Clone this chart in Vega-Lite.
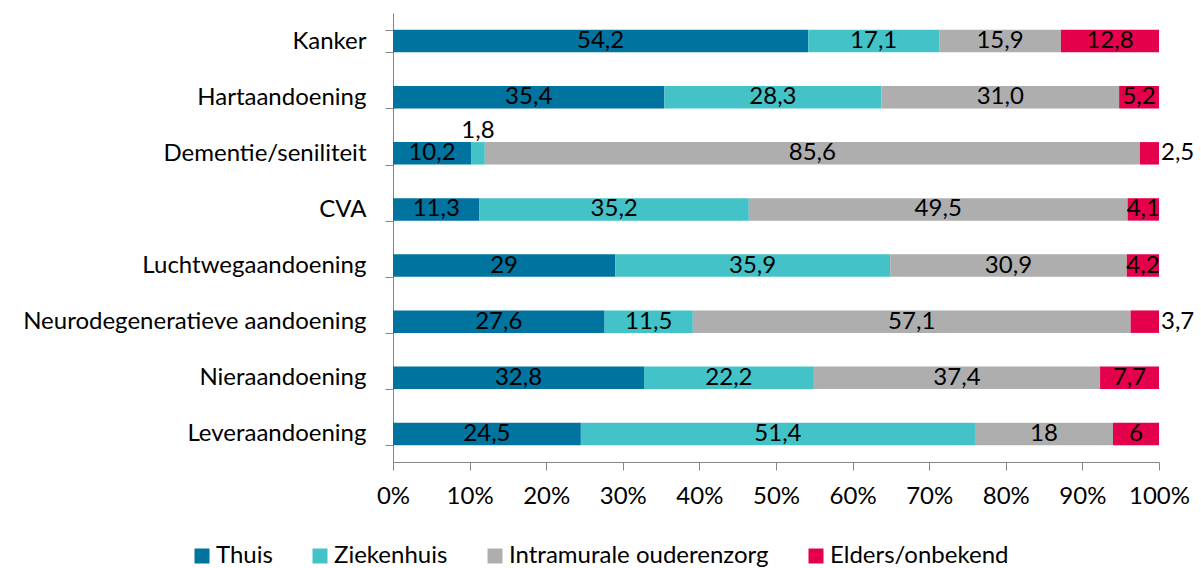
{
  "$schema": "https://vega.github.io/schema/vega-lite/v6.json",
  "autosize": "none",
  "width": 766,
  "height": 449,
  "padding": {"left": 393, "top": 13, "right": 42, "bottom": 106},
  "background": "white",
  "config": {
    "font": "Lato",
    "view": {"stroke": null},
    "axis": {"labelFont": "Lato", "labelFontSize": 24, "labelColor": "#000000", "labelLimit": 0, "domainColor": "#868686", "tickColor": "#868686", "tickSize": 8, "grid": false, "title": null}
  },
  "data": {
    "values": [
      {"cat": "Kanker", "series": "Thuis", "value": 54.2, "label": "54,2"},
      {"cat": "Kanker", "series": "Ziekenhuis", "value": 17.1, "label": "17,1"},
      {"cat": "Kanker", "series": "Intramurale ouderenzorg", "value": 15.9, "label": "15,9"},
      {"cat": "Kanker", "series": "Elders/onbekend", "value": 12.8, "label": "12,8"},
      {"cat": "Hartaandoening", "series": "Thuis", "value": 35.4, "label": "35,4"},
      {"cat": "Hartaandoening", "series": "Ziekenhuis", "value": 28.3, "label": "28,3"},
      {"cat": "Hartaandoening", "series": "Intramurale ouderenzorg", "value": 31.0, "label": "31,0"},
      {"cat": "Hartaandoening", "series": "Elders/onbekend", "value": 5.2, "label": "5,2"},
      {"cat": "Dementie/seniliteit", "series": "Thuis", "value": 10.2, "label": "10,2"},
      {"cat": "Dementie/seniliteit", "series": "Ziekenhuis", "value": 1.8, "label": "1,8"},
      {"cat": "Dementie/seniliteit", "series": "Intramurale ouderenzorg", "value": 85.6, "label": "85,6"},
      {"cat": "Dementie/seniliteit", "series": "Elders/onbekend", "value": 2.5, "label": "2,5"},
      {"cat": "CVA", "series": "Thuis", "value": 11.3, "label": "11,3"},
      {"cat": "CVA", "series": "Ziekenhuis", "value": 35.2, "label": "35,2"},
      {"cat": "CVA", "series": "Intramurale ouderenzorg", "value": 49.5, "label": "49,5"},
      {"cat": "CVA", "series": "Elders/onbekend", "value": 4.1, "label": "4,1"},
      {"cat": "Luchtwegaandoening", "series": "Thuis", "value": 29, "label": "29"},
      {"cat": "Luchtwegaandoening", "series": "Ziekenhuis", "value": 35.9, "label": "35,9"},
      {"cat": "Luchtwegaandoening", "series": "Intramurale ouderenzorg", "value": 30.9, "label": "30,9"},
      {"cat": "Luchtwegaandoening", "series": "Elders/onbekend", "value": 4.2, "label": "4,2"},
      {"cat": "Neurodegeneratieve aandoening", "series": "Thuis", "value": 27.6, "label": "27,6"},
      {"cat": "Neurodegeneratieve aandoening", "series": "Ziekenhuis", "value": 11.5, "label": "11,5"},
      {"cat": "Neurodegeneratieve aandoening", "series": "Intramurale ouderenzorg", "value": 57.1, "label": "57,1"},
      {"cat": "Neurodegeneratieve aandoening", "series": "Elders/onbekend", "value": 3.7, "label": "3,7"},
      {"cat": "Nieraandoening", "series": "Thuis", "value": 32.8, "label": "32,8"},
      {"cat": "Nieraandoening", "series": "Ziekenhuis", "value": 22.2, "label": "22,2"},
      {"cat": "Nieraandoening", "series": "Intramurale ouderenzorg", "value": 37.4, "label": "37,4"},
      {"cat": "Nieraandoening", "series": "Elders/onbekend", "value": 7.7, "label": "7,7"},
      {"cat": "Leveraandoening", "series": "Thuis", "value": 24.5, "label": "24,5"},
      {"cat": "Leveraandoening", "series": "Ziekenhuis", "value": 51.4, "label": "51,4"},
      {"cat": "Leveraandoening", "series": "Intramurale ouderenzorg", "value": 18, "label": "18"},
      {"cat": "Leveraandoening", "series": "Elders/onbekend", "value": 6, "label": "6"}
    ]
  },
  "transform": [
    {"calculate": "indexof(['Thuis','Ziekenhuis','Intramurale ouderenzorg','Elders/onbekend'], datum.series)", "as": "k"},
    {"stack": "value", "groupby": ["cat"], "sort": [{"field": "k", "order": "ascending"}], "offset": "normalize", "as": ["x0", "x1"]},
    {"calculate": "(datum.x0 + datum.x1) / 2", "as": "xm"}
  ],
  "encoding": {
    "y": {
      "field": "cat", "type": "nominal", "sort": null,
      "scale": {"paddingInner": 0.6, "paddingOuter": 0.3},
      "axis": {"tickBand": "extent", "labelPadding": 19, "labelAlign": "right"}
    }
  },
  "layer": [
    {
      "mark": {"type": "bar", "stroke": null},
      "encoding": {
        "x": {"field": "x0", "type": "quantitative", "scale": {"domain": [0, 1], "nice": false},
              "axis": {"format": ".0%", "values": [0,0.1,0.2,0.3,0.4,0.5,0.6,0.7,0.8,0.9,1], "labelPadding": 14, "labelFlush": false}},
        "x2": {"field": "x1"},
        "color": {
          "field": "series", "type": "nominal",
          "scale": {"domain": ["Thuis", "Ziekenhuis", "Intramurale ouderenzorg", "Elders/onbekend"],
                    "range": ["#00739E", "#43C3C7", "#AFAEAE", "#E4004A"]},
          "legend": {"title": null, "orient": "none", "direction": "horizontal", "legendX": -203, "legendY": 531,
                     "symbolType": "square", "symbolSize": 225, "symbolStrokeWidth": 0, "labelFontSize": 24, "labelFont": "Lato",
                     "labelLimit": 0, "labelColor": "#000000", "columnPadding": 35, "labelOffset": 2}
        }
      }
    },
    {
      "transform": [{"filter": "!(datum.cat == 'Dementie/seniliteit' && (datum.series == 'Ziekenhuis' || datum.series == 'Elders/onbekend')) && !(datum.cat == 'Neurodegeneratieve aandoening' && datum.series == 'Elders/onbekend')"}],
      "mark": {"type": "text", "fontSize": 24, "font": "Lato", "color": "#000000", "align": "center", "baseline": "middle"},
      "encoding": {"x": {"field": "xm", "type": "quantitative"}, "text": {"field": "label"}}
    },
    {
      "transform": [{"filter": "datum.cat == 'Dementie/seniliteit' && datum.series == 'Ziekenhuis'"}],
      "mark": {"type": "text", "fontSize": 24, "font": "Lato", "color": "#000000", "align": "center", "baseline": "middle", "dy": -22},
      "encoding": {"x": {"field": "xm", "type": "quantitative"}, "text": {"field": "label"}}
    },
    {
      "transform": [{"filter": "datum.series == 'Elders/onbekend' && (datum.cat == 'Dementie/seniliteit' || datum.cat == 'Neurodegeneratieve aandoening')"}],
      "mark": {"type": "text", "fontSize": 24, "font": "Lato", "color": "#000000", "align": "left", "baseline": "middle", "dx": 2},
      "encoding": {"x": {"field": "x1", "type": "quantitative"}, "text": {"field": "label"}}
    }
  ]
}
